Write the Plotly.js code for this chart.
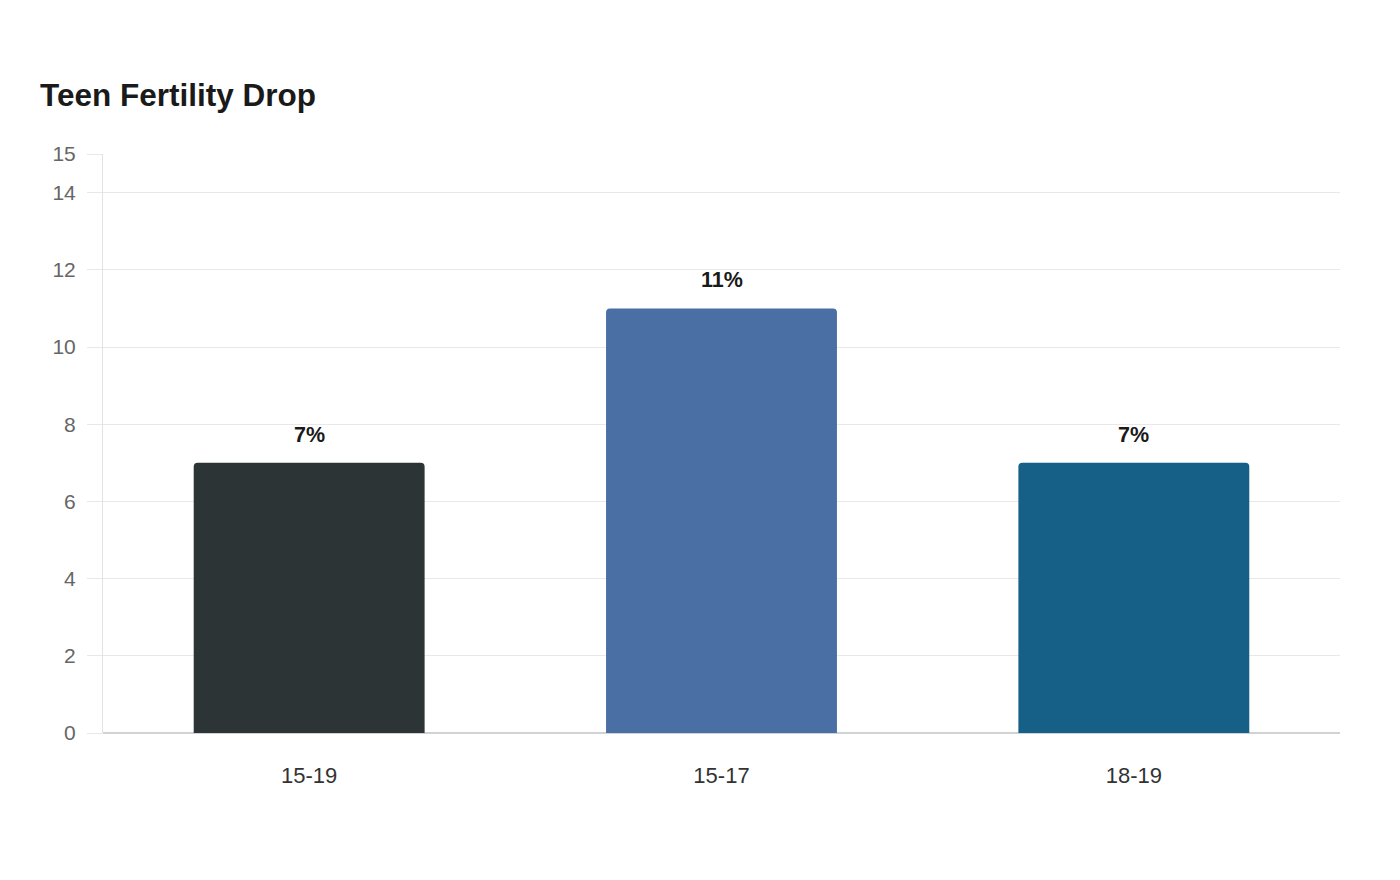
<!DOCTYPE html>
<html>
<head>
<meta charset="utf-8">
<script src="https://cdn.plot.ly/plotly-3.0.1.min.js"></script>
<style>html,body{margin:0;padding:0;background:#fff;}#chart{width:1400px;height:880px;}</style>
</head>
<body>
<div id="chart"></div>
<script>
const categories = ["15-19", "15-17", "18-19"];
const values = [7, 11, 7];
const valueLabels = ["7%", "11%", "7%"];
const barColors = ["#2d3436", "#4a6fa5", "#166088"];
const yTickVals = [0, 2, 4, 6, 8, 10, 12, 14, 15];
const yTickText = ["0", "2", "4", "6", "8", "10", "12", "14", "15"];

const trace = {
  type: "bar",
  x: categories,
  y: values,
  marker: { color: barColors, cornerradius: 4 },
  width: 0.56,
  hoverinfo: "x+y"
};

const annotations = categories.map((c, i) => ({
  x: c, y: values[i], xref: "x", yref: "y",
  text: "<b>" + valueLabels[i] + "</b>",
  showarrow: false, yanchor: "bottom", yshift: 14,
  font: { family: "Liberation Sans, Arial, sans-serif", size: 21.5, color: "#1a1a1a" }
}));

const layout = {
  width: 1400, height: 880,
  paper_bgcolor: "#ffffff", plot_bgcolor: "#ffffff",
  margin: { l: 103, r: 60, t: 154, b: 147 },
  title: {
    text: "<b>Teen Fertility Drop</b>",
    x: 40 / 1400, xref: "container", xanchor: "left",
    y: 1 - 95 / 880, yref: "container", yanchor: "middle",
    font: { family: "Liberation Sans, Arial, sans-serif", size: 31.5, color: "#1a1a1a" }
  },
  font: { family: "Liberation Sans, Arial, sans-serif" },
  showlegend: false,
  xaxis: {
    range: [-0.5, 2.5],
    showgrid: false, zeroline: false, showline: false,
    ticks: "", ticklabelstandoff: 27,
    tickfont: { size: 22, color: "#333333" }
  },
  yaxis: {
    range: [0, 15],
    tickvals: yTickVals, ticktext: yTickText,
    showgrid: true, gridcolor: "#e8e8e8", gridwidth: 1,
    zeroline: true, zerolinecolor: "#cfd3d6", zerolinewidth: 2,
    showline: true, linecolor: "#e2e2e2", linewidth: 1,
    ticks: "outside", ticklen: 15, tickcolor: "#e8e8e8", tickwidth: 1,
    ticklabelstandoff: 7,
    tickfont: { size: 21, color: "#666666" }
  },
  annotations: annotations
};

Plotly.newPlot("chart", [trace], layout, { displayModeBar: false });
</script>
</body>
</html>
